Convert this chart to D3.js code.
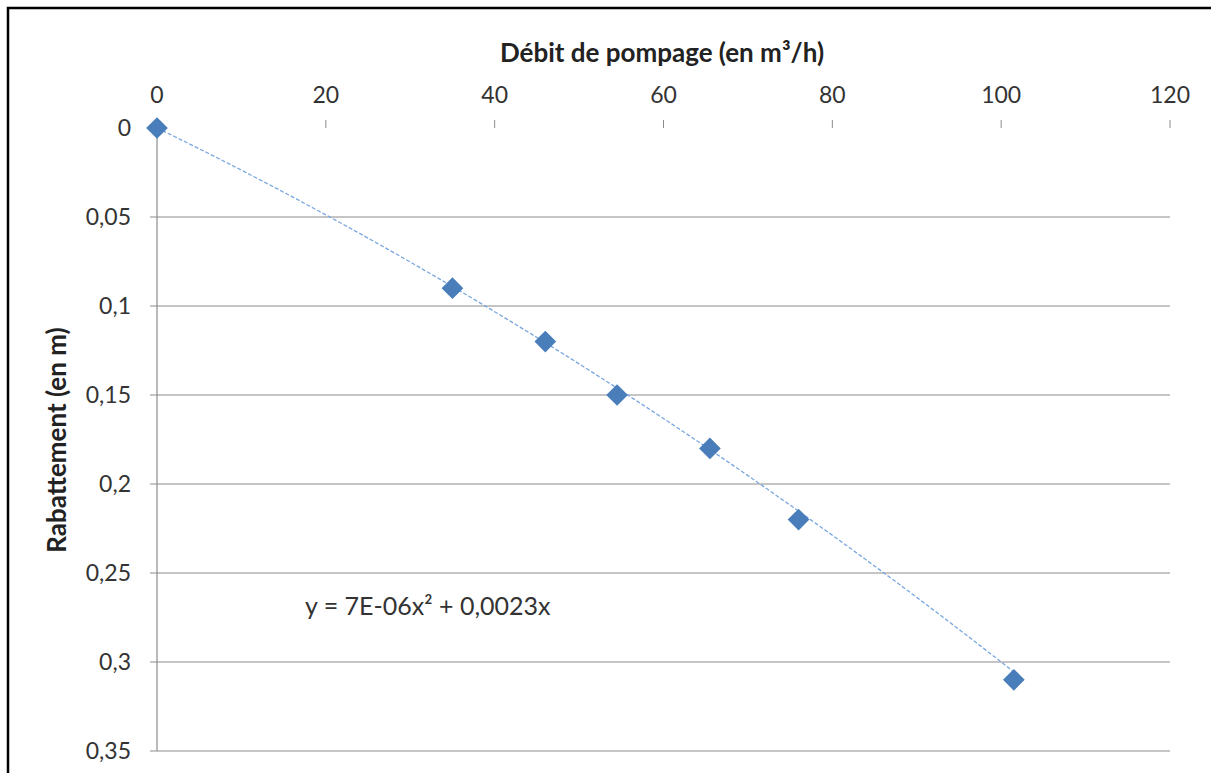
<!DOCTYPE html>
<html><head><meta charset="utf-8">
<script src="https://cdn.jsdelivr.net/npm/d3@7"></script>
<style>body{margin:0;background:#fff;overflow:hidden}svg{display:block}</style>
</head><body>
<svg id="c" width="1211" height="773"></svg>
<script>
const debit = [0, 35, 46, 54.5, 65.5, 76, 101.5];
const rabattement = [0, 0.09, 0.12, 0.15, 0.18, 0.22, 0.31];
const xTicks = [0, 20, 40, 60, 80, 100, 120];
const yTicks = [0, 0.05, 0.1, 0.15, 0.2, 0.25, 0.3, 0.35];
const trendA = 7e-6, trendB = 0.0023;
const trendLabel = "y = 7E-06x² + 0,0023x";
const xTitle = "Débit de pompage (en m³/h)";
const yTitle = "Rabattement (en m)";

const svg = d3.select("#c");
const font = "Lato, 'Open Sans', sans-serif";
const x = d3.scaleLinear().domain([0, 120]).range([157, 1170]);
const y = d3.scaleLinear().domain([0, 0.35]).range([128, 751]);

// frame
svg.append("path").attr("d", "M8,800 V8 H1220").attr("fill", "none").attr("stroke", "#000").attr("stroke-width", 2.5);

// gridlines
svg.append("g").selectAll("line").data(yTicks.filter(d => d > 0)).join("line")
  .attr("x1", 150).attr("x2", 1170).attr("y1", d => y(d)).attr("y2", d => y(d))
  .attr("stroke", "#8c8c8c").attr("stroke-width", 1.2);

// y axis line
svg.append("line").attr("x1", x(0)).attr("x2", x(0)).attr("y1", y(0)).attr("y2", y(0.35))
  .attr("stroke", "#8c8c8c").attr("stroke-width", 1.2);

// x ticks (top)
svg.append("g").selectAll("line").data(xTicks).join("line")
  .attr("x1", d => x(d)).attr("x2", d => x(d)).attr("y1", y(0) - 8).attr("y2", y(0))
  .attr("stroke", "#8c8c8c").attr("stroke-width", 1);

const fmt = d => d === 0 ? "0" : String(d).replace(".", ",");
svg.append("g").selectAll("text").data(xTicks).join("text")
  .attr("x", d => x(d)).attr("y", 103).attr("text-anchor", "middle")
  .attr("font-family", font).attr("font-size", 23).attr("fill", "#333").text(d => d);
svg.append("g").selectAll("text").data(yTicks).join("text")
  .attr("x", 131).attr("y", d => y(d) + 8).attr("text-anchor", "end")
  .attr("font-family", font).attr("font-size", 23).attr("fill", "#333").text(fmt);

// titles
svg.append("text").attr("x", 662).attr("y", 62).attr("text-anchor", "middle")
  .attr("font-family", font).attr("font-weight", "bold").attr("font-size", 26).attr("fill", "#222").text(xTitle);
svg.append("text").attr("transform", "translate(66,440) rotate(-90)").attr("text-anchor", "middle")
  .attr("font-family", font).attr("font-weight", "bold").attr("font-size", 26).attr("fill", "#222").text(yTitle);

// trendline
const xs = d3.range(0, d3.max(debit) + 0.01, 0.5);
const line = d3.line().x(d => x(d)).y(d => y(trendA * d * d + trendB * d));
svg.append("path").attr("d", line(xs)).attr("fill", "none")
  .attr("stroke", "#7aa7e0").attr("stroke-width", 1.3).attr("stroke-dasharray", "4,2");

// markers
const pts = debit.map((d, i) => [d, rabattement[i]]);
svg.append("g").selectAll("path").data(pts).join("path")
  .attr("transform", d => `translate(${x(d[0])},${y(d[1])})`)
  .attr("d", d3.symbol(d3.symbolDiamond2, 300)).attr("fill", "#4a7ebb");
// equation
svg.append("text").attr("x", 305).attr("y", 615)
  .attr("font-family", font).attr("font-size", 25).attr("fill", "#333").text(trendLabel);
</script>
</body></html>
